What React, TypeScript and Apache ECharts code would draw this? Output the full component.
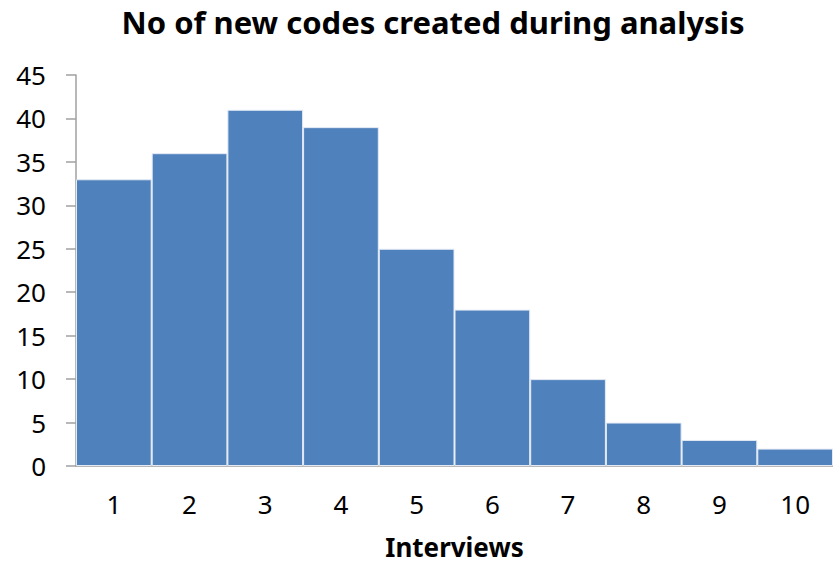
import React, { useEffect, useRef } from "react";
import * as echarts from "echarts";

const categories = ["1", "2", "3", "4", "5", "6", "7", "8", "9", "10"];
const newCodes = [33, 36, 41, 39, 25, 18, 10, 5, 3, 2];
const titleText = "No of new codes created during analysis";
const xAxisName = "Interviews";

export default function App() {
  const ref = useRef<HTMLDivElement>(null);
  useEffect(() => {
    if (!ref.current) return;
    const chart = echarts.init(ref.current, null, { renderer: "svg" });
    const font = "'Noto Sans', 'Open Sans', sans-serif";
    chart.setOption({
      animation: false,
      backgroundColor: "#ffffff",
      title: {
        text: titleText,
        left: 428,
        top: 1,
        textAlign: "center",
        textStyle: { fontFamily: font, fontWeight: "bold", fontSize: 31, color: "#000" },
      },
      grid: { left: 76, right: -3, top: 75, height: 392, containLabel: false },
      xAxis: {
        type: "category",
        data: categories,
        name: xAxisName,
        nameLocation: "middle",
        nameGap: 68,
        nameTextStyle: { fontFamily: font, fontWeight: "bold", fontSize: 26, color: "#000" },
        axisLine: { lineStyle: { color: "#a0a0a0", width: 1.5 } },
        axisTick: { show: false },
        axisLabel: { fontFamily: font, fontSize: 26, color: "#000", margin: 25 },
      },
      yAxis: {
        type: "value",
        min: 0,
        max: 45,
        interval: 5,
        axisLine: { show: true, lineStyle: { color: "#a0a0a0", width: 1.5 } },
        axisTick: { show: true, length: 10, lineStyle: { color: "#a0a0a0", width: 1.5 } },
        splitLine: { show: false },
        axisLabel: { fontFamily: font, fontSize: 26, color: "#000", margin: 30 },
      },
      series: [
        {
          type: "bar",
          data: newCodes,
          barCategoryGap: "0%",
          itemStyle: { color: "#4f81bd", borderColor: "#e4eaf4", borderWidth: 1 },
        },
      ],
    });
    return () => chart.dispose();
  }, []);
  return (
    <div
      ref={ref}
      style={{ position: "fixed", left: 0, top: 0, width: 833, height: 565 }}
    />
  );
}
